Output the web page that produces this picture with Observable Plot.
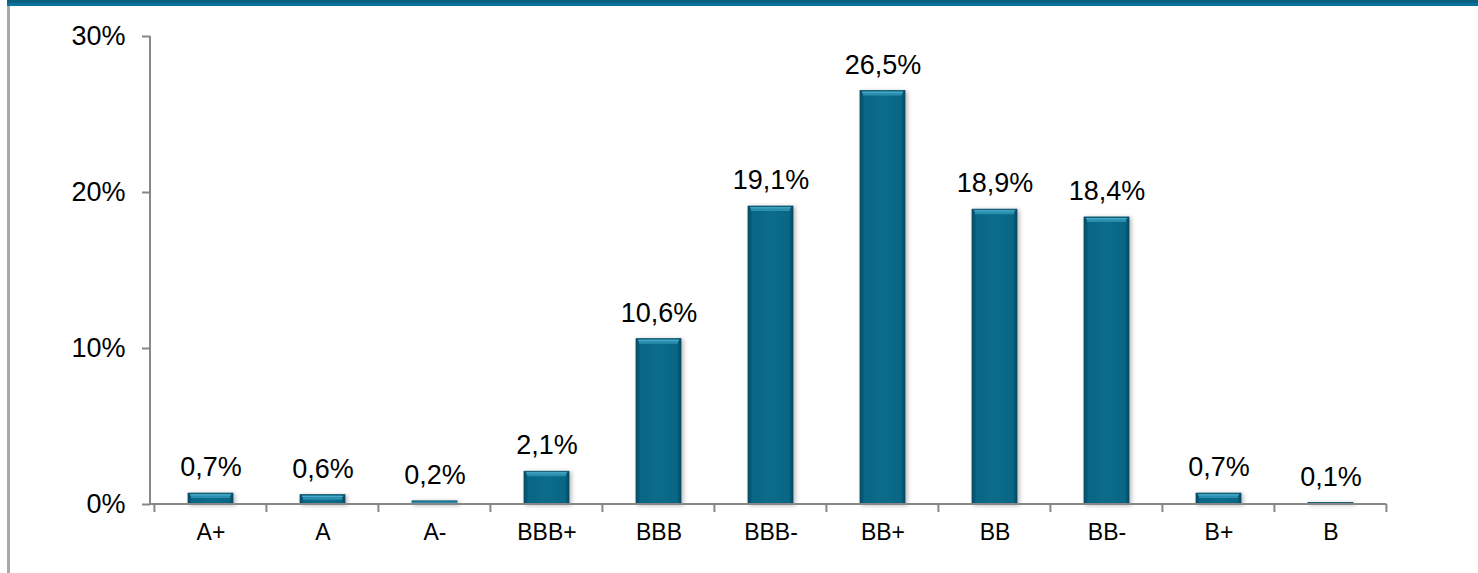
<!DOCTYPE html>
<html>
<head>
<meta charset="utf-8">
<script src="https://cdn.jsdelivr.net/npm/d3@7"></script>
<script src="https://cdn.jsdelivr.net/npm/@observablehq/plot@0.6"></script>
<style>
  html, body { margin: 0; padding: 0; background: #fff; }
  #wrap { position: relative; width: 1478px; height: 573px; overflow: hidden; font-family: "Liberation Sans", Arial, sans-serif; }
  #band1 { position: absolute; left: 7px; top: 0; width: 1471px; height: 3px; background: #0a607f; }
  #band2 { position: absolute; left: 7px; top: 3px; width: 1471px; height: 3px; background: #0a70a0; }
  #side { position: absolute; left: 7px; top: 0; width: 3px; height: 573px; background: #a6a8ab; }
  #chart { position: absolute; left: 0; top: 0; }
  #chart svg g[aria-label="bar"] { filter: drop-shadow(2px 1px 2px rgba(0,0,0,0.28)); }
</style>
</head>
<body>
<div id="wrap">
  <div id="side"></div>
  <div id="chart"></div>
  <div id="band1"></div>
  <div id="band2"></div>
</div>
<script>
const categories = ["A+", "A", "A-", "BBB+", "BBB", "BBB-", "BB+", "BB", "BB-", "B+", "B"];
const shares = [0.7, 0.6, 0.2, 2.1, 10.6, 19.1, 26.5, 18.9, 18.4, 0.7, 0.1];
const yTicks = [0, 10, 20, 30];

const data = categories.map((c, i) => ({ cat: c, v: shares[i] }));
const fmtLabel = v => v.toFixed(1).replace(".", ",") + "%";
const PAD = 0.6;

const defsMark = () => {
  const d = d3.create("svg:defs");
  const g = d.append("linearGradient").attr("id", "barGrad")
    .attr("x1", 0).attr("x2", 1).attr("y1", 0).attr("y2", 0);
  g.append("stop").attr("offset", "0%").attr("stop-color", "#054b63");
  g.append("stop").attr("offset", "10%").attr("stop-color", "#096684");
  g.append("stop").attr("offset", "50%").attr("stop-color", "#0b6c8b");
  g.append("stop").attr("offset", "90%").attr("stop-color", "#096684");
  g.append("stop").attr("offset", "100%").attr("stop-color", "#054b63");
  return d.node();
};

const axesMark = (index, scales, values, dimensions) => {
  const xs = scales.x, ys = scales.y;
  const step = xs(categories[1]) - xs(categories[0]);
  const bounds = categories.map(c => xs(c) - step * PAD / 2);
  bounds.push(bounds[bounds.length - 1] + step);
  const g = d3.create("svg:g").attr("stroke", "#878787").attr("stroke-width", 2).attr("fill", "none");
  const x0 = dimensions.marginLeft;
  g.append("line").attr("x1", x0).attr("x2", x0).attr("y1", ys(30)).attr("y2", ys(0));
  g.append("line").attr("x1", x0).attr("x2", bounds[bounds.length - 1]).attr("y1", ys(0)).attr("y2", ys(0));
  for (const b of bounds) {
    g.append("line").attr("x1", b).attr("x2", b).attr("y1", ys(0)).attr("y2", ys(0) + 8);
  }
  return g.node();
};

const plot = Plot.plot({
  width: 1478,
  height: 573,
  marginLeft: 150,
  marginRight: 88,
  marginTop: 36,
  marginBottom: 69,
  style: { background: "transparent", fontFamily: "'Liberation Sans', Arial, sans-serif", color: "#000" },
  x: { domain: categories, paddingInner: PAD, paddingOuter: PAD / 2, label: null },
  y: { domain: [0, 30], label: null },
  marks: [
    defsMark,
    Plot.barY(data, { x: "cat", y: "v", fill: "url(#barGrad)", stroke: "#064f68", strokeWidth: 0.8 }),
    Plot.tickY(data, { filter: d => d.v >= 0.5, x: "cat", y: "v", stroke: "#2a8fae", strokeWidth: 4, dy: 2.5, insetLeft: 3, insetRight: 3 }),
    Plot.tickY(data, { filter: d => d.v >= 0.5, x: "cat", y: "v", stroke: "#4aa9c6", strokeWidth: 1.2, dy: 1.2, insetLeft: 2, insetRight: 2 }),
    Plot.tickY(data, { filter: d => d.v < 0.5, x: "cat", y: "v", stroke: "#2a8fae", strokeWidth: 1.5, dy: 0.8 }),
    axesMark,
    Plot.axisY({ ticks: yTicks, tickFormat: d => d + "%", tickSize: 8, tickPadding: 17, fontSize: 27, stroke: "#878787", strokeWidth: 2, fill: "#000", label: null }),
    Plot.axisX({ tickSize: 0, tickPadding: 19, fontSize: 23, fill: "#000", label: null }),
    Plot.text(data, { x: "cat", y: "v", text: d => fmtLabel(d.v), dy: -26, fontSize: 27, fill: "#000" })
  ]
});
document.getElementById("chart").appendChild(plot);
</script>
</body>
</html>
